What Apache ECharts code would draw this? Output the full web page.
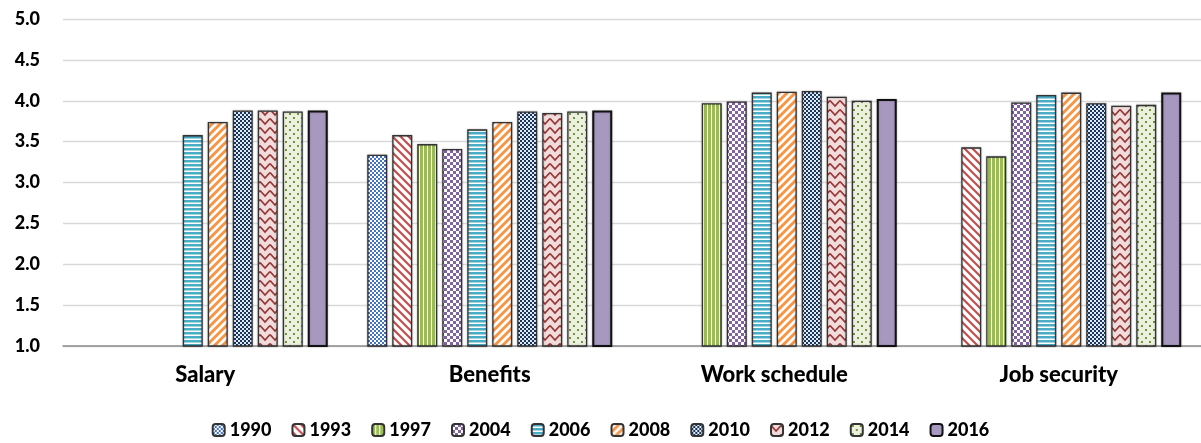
<!DOCTYPE html>
<html>
<head>
<meta charset="utf-8">
<script src="https://cdn.jsdelivr.net/npm/echarts@6/dist/echarts.min.js"></script>
<style>
html,body{margin:0;padding:0;background:#fff;}
#chart{width:1201px;height:443px;}
</style>
</head>
<body>
<div id="chart"></div>
<script>
// ---- data ----
var categories = ['Salary', 'Benefits', 'Work schedule', 'Job security'];
var years = ['1990', '1993', '1997', '2004', '2006', '2008', '2010', '2012', '2014', '2016'];
var v1990 = [null, 3.34, null, null];
var v1993 = [null, 3.58, null, 3.43];
var v1997 = [null, 3.47, 3.97, 3.32];
var v2004 = [null, 3.41, 3.99, 3.98];
var v2006 = [3.58, 3.65, 4.10, 4.07];
var v2008 = [3.74, 3.74, 4.11, 4.10];
var v2010 = [3.88, 3.87, 4.12, 3.97];
var v2012 = [3.88, 3.85, 4.05, 3.94];
var v2014 = [3.87, 3.87, 4.00, 3.95];
var v2016 = [3.88, 3.88, 4.02, 4.10];
var yTicks = ['1.0', '1.5', '2.0', '2.5', '3.0', '3.5', '4.0', '4.5', '5.0'];
var seriesValues = [v1990, v1993, v1997, v2004, v2006, v2008, v2010, v2012, v2014, v2016];

// ---- patterns ----
function tile(w, h, bg, draw) {
  var c = document.createElement('canvas');
  c.width = w; c.height = h;
  var g = c.getContext('2d');
  g.fillStyle = bg; g.fillRect(0, 0, w, h);
  draw(g);
  return { image: c, repeat: 'repeat' };
}
var patterns = [
  // 1990 small blue checker
  tile(4, 4, '#ffffff', function (g) { g.fillStyle = '#4472C4'; g.fillRect(0, 0, 2, 2); g.fillRect(2, 2, 2, 2); }),
  // 1993 red downward diagonal
  tile(8, 8, '#ffffff', function (g) {
    g.strokeStyle = '#C0504D'; g.lineWidth = 2.2;
    g.beginPath(); g.moveTo(-2, -2); g.lineTo(10, 10); g.moveTo(-2, 6); g.lineTo(2, 10); g.moveTo(6, -2); g.lineTo(10, 2); g.stroke();
  }),
  // 1997 green vertical stripes
  tile(4, 4, '#ffffff', function (g) { g.fillStyle = '#9BBB59'; g.fillRect(0, 0, 3, 4); }),
  // 2004 purple checker
  tile(6, 6, '#ffffff', function (g) { g.fillStyle = '#8064A2'; g.fillRect(0, 0, 3, 3); g.fillRect(3, 3, 3, 3); }),
  // 2006 teal horizontal stripes
  tile(4, 4, '#ffffff', function (g) { g.fillStyle = '#4BACC6'; g.fillRect(0, 0, 4, 2.5); }),
  // 2008 orange upward diagonal
  tile(8, 8, '#ffffff', function (g) {
    g.strokeStyle = '#F79646'; g.lineWidth = 3;
    g.beginPath(); g.moveTo(-2, 10); g.lineTo(10, -2); g.moveTo(-2, 2); g.lineTo(2, -2); g.moveTo(6, 10); g.lineTo(10, 6); g.stroke();
  }),
  // 2010 navy checker
  tile(4, 4, '#E4EAF4', function (g) { g.fillStyle = '#17375E'; g.fillRect(0, 0, 2, 2); g.fillRect(2, 2, 2, 2); }),
  // 2012 zigzag on pink
  tile(10, 9, '#F2DCDB', function (g) {
    g.strokeStyle = '#953735'; g.lineWidth = 1.7;
    g.beginPath(); g.moveTo(0, 1.5); g.lineTo(5, 7); g.lineTo(10, 1.5); g.stroke();
  }),
  // 2014 dots on light green
  tile(8, 8, '#EBF1DE', function (g) { g.fillStyle = '#77933C'; g.fillRect(1, 1, 2, 2); g.fillRect(5, 5, 2, 2); }),
  // 2016 solid purple
  '#A798BF'
];

var series = years.map(function (y, i) {
  var last = i === years.length - 1;
  return {
    name: y,
    type: 'bar',
    data: seriesValues[i],
    barWidth: 20,
    barGap: '25%',
    itemStyle: {
      color: patterns[i],
      borderColor: last ? '#111111' : '#333333',
      borderWidth: last ? 2 : 1.3,
      shadowColor: 'rgba(0,0,0,0.25)',
      shadowBlur: 2
    }
  };
});

var chart = echarts.init(document.getElementById('chart'), null, { renderer: 'canvas' });
chart.setOption({
  animation: false,
  backgroundColor: '#ffffff',
  grid: { left: 63, top: 19, width: 1148, height: 327, containLabel: false },
  legend: {
    data: years,
    left: 'center',
    top: 416,
    itemWidth: 12,
    itemHeight: 12,
    itemGap: 20,
    textStyle: { fontFamily: 'Lato', fontWeight: 900, fontSize: 18, color: '#000' }
  },
  xAxis: {
    type: 'category',
    data: categories,
    axisTick: { show: false },
    axisLine: { lineStyle: { color: '#8C8C8C', width: 1.5 } },
    axisLabel: { margin: 18, fontFamily: 'Lato', fontWeight: 900, fontSize: 22, color: '#000' }
  },
  yAxis: {
    type: 'value',
    min: 1, max: 5, interval: 0.5,
    axisLine: { show: false },
    axisTick: { show: false },
    splitLine: { lineStyle: { color: '#D9D9D9', width: 1.3 } },
    axisLabel: {
      margin: 23, fontFamily: 'Lato', fontWeight: 900, fontSize: 18, color: '#000',
      formatter: function (v) { return yTicks[Math.round((v - 1) / 0.5)]; }
    }
  },
  series: series
});
</script>
</body>
</html>
